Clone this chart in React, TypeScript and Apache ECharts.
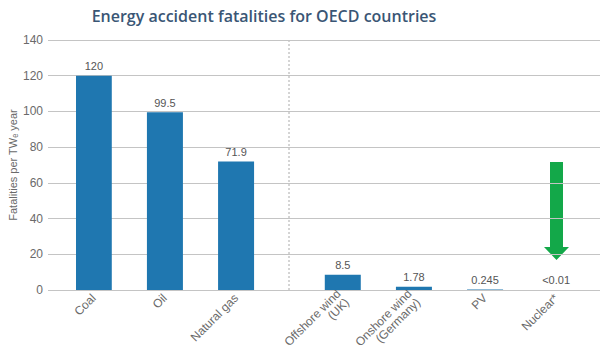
import React, { useEffect, useRef } from "react";
import * as echarts from "echarts";

const titleText = "Energy accident fatalities for OECD countries";
const yAxisName = "Fatalities per TWₑ year";
const categories = [
  "Coal",
  "Oil",
  "Natural gas",
  "Offshore wind\n(UK)",
  "Onshore wind\n(Germany)",
  "PV",
  "Nuclear*",
];
const values = [120, 99.5, 71.9, 8.5, 1.78, 0.245, 0.01];
const valueLabels = ["120", "99.5", "71.9", "8.5", "1.78", "0.245", "<0.01"];
const yTicks = [0, 20, 40, 60, 80, 100, 120, 140];

export default function App() {
  const ref = useRef<HTMLDivElement>(null);
  useEffect(() => {
    if (!ref.current) return;
    const chart = echarts.init(ref.current, null, { renderer: "svg" });
    // two half-slots per category, with an extra half-slot gap after the fossil group
    const slotOf = (i: number) => (i < 3 ? 2 * i : 2 * i + 1);
    const nSlots = slotOf(categories.length - 1) + 1;
    const slotCats: string[] = new Array(nSlots).fill("");
    const slotData: any[] = new Array(nSlots).fill("-");
    const slotLabel: string[] = new Array(nSlots).fill("");
    categories.forEach((c, i) => {
      slotCats[slotOf(i)] = c;
      slotData[slotOf(i)] = values[i];
      slotLabel[slotOf(i)] = valueLabels[i];
    });
    const grey = "#6a6a6a";
    chart.setOption({
      animation: false,
      title: {
        text: titleText,
        left: 259,
        top: 3,
        textAlign: "center",
        textStyle: {
          fontFamily: "Open Sans",
          fontWeight: 600,
          fontSize: 16,
          color: "#3a5675",
        },
      },
      grid: [
        { left: 48, right: 0, top: 40, bottom: 64, containLabel: false, outerBoundsMode: "none" },
        { left: 76, width: 498, top: 40, bottom: 64, containLabel: false, outerBoundsMode: "none" },
      ],
      xAxis: [
        { type: "value", gridIndex: 0, show: false, min: 0, max: 1 },
        {
          type: "category",
          gridIndex: 1,
          data: slotCats,
          axisLine: { show: false },
          axisTick: { show: false },
          axisLabel: {
            interval: 0,
            rotate: 45,
            color: grey,
            fontSize: 12,
            fontFamily: "Liberation Sans",
            margin: 6,
            lineHeight: 12,
          },
        },
      ],
      yAxis: [
        {
          type: "value",
          gridIndex: 0,
          min: yTicks[0],
          max: yTicks[yTicks.length - 1],
          interval: yTicks[1] - yTicks[0],
          name: yAxisName,
          nameLocation: "middle",
          nameGap: 30,
          nameMoveOverlap: false,
          nameTextStyle: {
            color: grey,
            fontSize: 11,
            fontFamily: "Liberation Sans",
          },
          axisLine: { show: false },
          axisTick: { show: false },
          axisLabel: {
            color: grey,
            fontSize: 12,
            fontFamily: "Liberation Sans",
            margin: 5,
          },
          splitLine: { lineStyle: { color: "#c4c4c4", width: 1 } },
        },
        {
          type: "value",
          gridIndex: 1,
          min: yTicks[0],
          max: yTicks[yTicks.length - 1],
          show: false,
          splitLine: { show: false },
        },
      ],
      series: [
        {
          type: "bar",
          xAxisIndex: 1,
          yAxisIndex: 1,
          data: slotData,
          barWidth: 36,
          itemStyle: { color: "#1f77b0" },
          label: {
            show: true,
            position: "top",
            distance: 4,
            color: "#555",
            fontSize: 11,
            fontFamily: "Liberation Sans",
            formatter: (p: any) => slotLabel[p.dataIndex],
          },
        },
      ],
      graphic: [
        {
          type: "line",
          shape: { x1: 289, y1: 40, x2: 289, y2: 290 },
          style: { stroke: "#aaa", lineWidth: 1, lineDash: [2, 2] },
        },
        {
          type: "polygon",
          shape: {
            points: [
              [550, 162],
              [563, 162],
              [563, 247],
              [569, 247],
              [556.5, 260],
              [544, 247],
              [550, 247],
            ],
          },
          style: { fill: "#13a849" },
        },
      ],
    });
    return () => chart.dispose();
  }, []);
  return (
    <div
      ref={ref}
      style={{ position: "fixed", left: 0, top: 0, width: 600, height: 354, background: "#fff" }}
    />
  );
}
